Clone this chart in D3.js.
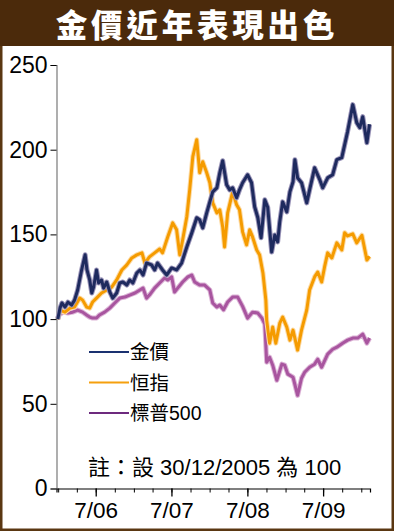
<!DOCTYPE html>
<html>
<head>
<meta charset="utf-8">
<script src="https://cdn.jsdelivr.net/npm/d3@7"></script>
<style>
  body { margin: 0; background: #fff; }
  svg { display: block; }
</style>
</head>
<body>
<svg id="chart"></svg>
<script>
// data: index, 30/12/2005 = 100
const goldDates = ["2005-12-30","2006-01-10","2006-01-19","2006-02-03","2006-02-17","2006-03-07","2006-03-21","2006-04-05","2006-04-24","2006-05-11","2006-05-20","2006-06-02","2006-06-12","2006-06-21","2006-07-05","2006-07-15","2006-07-29","2006-08-08","2006-08-23","2006-09-07","2006-09-21","2006-10-10","2006-10-25","2006-11-09","2006-11-28","2006-12-12","2006-12-27","2007-01-15","2007-01-30","2007-02-14","2007-03-03","2007-03-27","2007-04-11","2007-04-25","2007-05-19","2007-06-08","2007-07-02","2007-07-26","2007-08-19","2007-09-13","2007-10-07","2007-10-31","2007-11-14","2007-11-29","2007-12-18","2008-01-02","2008-01-16","2008-02-05","2008-02-19","2008-03-04","2008-03-23","2008-04-07","2008-04-21","2008-05-10","2008-05-24","2008-06-08","2008-07-02","2008-07-21","2008-08-05","2008-08-20","2008-09-05","2008-09-23","2008-10-07","2008-10-26","2008-11-10","2008-11-24","2008-12-04","2008-12-18","2009-01-07","2009-01-22","2009-02-06","2009-02-15","2009-02-28","2009-03-19","2009-04-13","2009-04-27","2009-05-21","2009-06-15","2009-06-29","2009-07-23","2009-08-16","2009-09-05","2009-09-29","2009-10-13","2009-10-27","2009-11-21","2009-12-10","2009-12-25","2010-01-08","2010-01-28","2010-02-10"];
const goldValues = [100,106.5,109.5,107.1,110,108.3,111.2,117.2,129,138,129,123.1,115.4,118.9,129,121.3,123.1,118.3,121.9,116,112.4,115.4,121.3,121.9,120.1,123.1,121.3,127.2,129,126,133.1,132,129,133.1,129,126,130.2,129,133.1,142.6,150.9,159.8,158.6,153.8,162.7,169.2,175.1,177.5,186.4,193.5,179.3,176.3,177.5,171.6,176.3,180.5,185.2,180.5,166.3,160,148,170.4,166,139.6,149.7,145.6,157.4,169.2,163.3,175.1,181.1,194.1,183.4,180.5,168.6,176.3,189.3,182.2,177.5,183.4,185.2,194.1,195.3,203,210.7,226.6,216,213,219.5,204.1,215];

const hsiDates = ["2005-12-30","2006-01-10","2006-02-03","2006-02-27","2006-03-21","2006-04-15","2006-04-29","2006-05-18","2006-06-02","2006-06-16","2006-07-05","2006-07-29","2006-08-23","2006-09-16","2006-10-10","2006-11-04","2006-11-28","2006-12-22","2007-01-15","2007-02-09","2007-02-23","2007-03-17","2007-04-11","2007-05-05","2007-05-19","2007-06-13","2007-07-07","2007-07-26","2007-08-10","2007-08-24","2007-09-13","2007-09-27","2007-10-12","2007-10-31","2007-11-14","2007-11-29","2007-12-18","2008-01-02","2008-01-16","2008-02-05","2008-02-19","2008-03-04","2008-03-13","2008-03-28","2008-04-21","2008-05-10","2008-05-24","2008-06-08","2008-06-27","2008-07-12","2008-07-26","2008-08-15","2008-08-29","2008-09-14","2008-09-28","2008-10-02","2008-10-16","2008-10-31","2008-11-15","2008-12-04","2008-12-18","2009-01-07","2009-01-22","2009-02-06","2009-02-28","2009-03-19","2009-04-13","2009-04-27","2009-05-21","2009-06-05","2009-06-24","2009-07-08","2009-07-23","2009-08-12","2009-09-05","2009-09-29","2009-10-13","2009-10-27","2009-11-21","2009-12-10","2010-01-04","2010-01-28","2010-02-10"];
const hsiValues = [100,105.3,104.1,106.5,107.1,112.4,111.2,107.1,106.5,110.1,112.4,115.4,117.2,118.9,123.1,129,132,136.1,137.9,139.1,133.1,136.7,139.1,141.4,139.1,148.5,156.8,152.7,137.9,146.7,160.4,176.3,195.9,205.9,186.4,192.9,186.4,180.5,168.6,162.7,164.5,154.4,142.6,162.7,175.1,167.5,164.5,151.5,143.8,152.7,148.5,140.8,137.9,127.2,111.2,99.4,85.8,95.3,85.8,97.6,101.2,95.3,87.6,93.5,81.7,93.5,105.3,117.2,124.9,127.8,121.9,130.8,139.1,136.1,145,140.8,151,149.1,150.3,145,149.5,134.9,137];

const spxDates = ["2005-12-30","2006-01-05","2006-01-24","2006-02-17","2006-03-12","2006-04-05","2006-04-29","2006-05-18","2006-06-02","2006-06-16","2006-07-05","2006-07-19","2006-08-13","2006-09-07","2006-10-01","2006-10-25","2006-11-18","2006-12-12","2007-01-06","2007-01-30","2007-02-14","2007-03-03","2007-03-17","2007-04-11","2007-05-05","2007-05-29","2007-06-13","2007-07-02","2007-07-16","2007-07-31","2007-08-24","2007-09-18","2007-10-07","2007-10-21","2007-11-14","2007-12-08","2008-01-02","2008-01-16","2008-02-05","2008-02-19","2008-03-08","2008-03-28","2008-04-21","2008-05-15","2008-06-08","2008-07-02","2008-07-26","2008-08-20","2008-09-09","2008-09-23","2008-10-02","2008-10-16","2008-10-31","2008-11-20","2008-12-14","2008-12-28","2009-01-12","2009-02-06","2009-02-28","2009-03-19","2009-04-03","2009-04-27","2009-05-21","2009-06-05","2009-06-24","2009-07-23","2009-08-16","2009-09-05","2009-10-03","2009-10-27","2009-11-21","2009-12-15","2010-01-08","2010-01-28","2010-02-10"];
const spxValues = [100,102.4,104.1,103.6,104.1,105.3,104.1,102.4,101.2,100.6,100.6,102.4,104.1,106.5,109.5,112.4,113,114.2,115.4,117.2,118.3,112.4,114.2,118.3,121.3,124.3,123.1,124.9,116,118.3,121.9,124.9,126,121.9,120.1,120.1,117.2,109.5,107.1,108.3,105.5,110.1,113,113,107.5,100.6,104.1,103.6,100.6,97,74.6,77.5,72.8,63.9,73.4,72.8,67.5,65.7,55,65.1,68.6,71.6,73.4,76.3,71.6,79.3,82.2,83.4,85.8,87.6,88.8,88.8,91.1,85.8,88.8];

const seriesNames = ["金價", "恒指", "標普500"];
const yTicks = [0, 50, 100, 150, 200, 250];
const titleText = "金價近年表現出色";
const noteText = "註：設 30/12/2005 為 100";

// init setting
const W = 394, H = 531;
const svg = d3.select("#chart").attr("width", W).attr("height", H);
const parse = d3.timeParse("%Y-%m-%d");

// frame + title bar
svg.append("rect")
    .attr("x", 1.25).attr("y", 1.25)
    .attr("width", W - 2.5).attr("height", H - 2.5)
    .attr("fill", "#fff")
    .attr("stroke", "#5a3712")
    .attr("stroke-width", 2.5);
svg.append("rect")
    .attr("x", 0).attr("y", 0)
    .attr("width", W).attr("height", 46)
    .attr("fill", "#4b2a0b");
svg.append("text")
    .attr("x", W / 2)
    .attr("y", 37)
    .attr("text-anchor", "middle")
    .attr("fill", "#fff")
    .style("font-family", "'Noto Sans CJK TC', 'Noto Sans CJK SC', sans-serif")
    .style("font-weight", 900)
    .style("font-size", "31.5px")
    .style("letter-spacing", "3.8px")
    .text(titleText);

// scales
const xScale = d3.scaleTime()
    .domain([new Date(2005, 11, 24), new Date(2010, 1, 12)])
    .range([56.5, 370]);
const yScale = d3.scaleLinear()
    .domain([0, 250])
    .range([488.5, 65]);

const font = "'Liberation Sans', Arial, 'Noto Sans CJK TC', sans-serif";

// y axis
const yAxis = svg.append("g")
    .attr("transform", "translate(56.5, 0)")
    .call(d3.axisLeft(yScale).tickValues(yTicks).tickSize(6).tickPadding(3).tickFormat(d3.format("d")));
yAxis.select(".domain").attr("stroke", "#7a7a7a").attr("stroke-width", 1.2);
yAxis.selectAll(".tick line").attr("stroke", "#000");
yAxis.selectAll(".tick text")
    .style("font-family", font)
    .style("font-size", "23px")
    .attr("fill", "#000");

// x axis: quarterly minor ticks, July major ticks with labels
const quarters = d3.timeMonth.every(3).range(new Date(2006, 0, 1), new Date(2010, 1, 12));
const julys = quarters.filter(d => d.getMonth() === 6);

const xMinor = svg.append("g")
    .attr("transform", "translate(0, 488.5)")
    .call(d3.axisBottom(xScale).tickValues(quarters).tickSize(4).tickFormat(""));
xMinor.select(".domain").attr("stroke", "#000").attr("stroke-width", 1.2);
xMinor.selectAll(".tick line").attr("stroke", "#000");

const xMajor = svg.append("g")
    .attr("transform", "translate(0, 488.5)")
    .call(d3.axisBottom(xScale).tickValues(julys).tickSize(8).tickPadding(6).tickFormat(d3.timeFormat("%-m/%y")));
xMajor.select(".domain").remove();
xMajor.selectAll(".tick line").attr("stroke", "#000").attr("stroke-width", 1.3);
xMajor.selectAll(".tick text")
    .style("font-family", font)
    .style("font-size", "22.5px")
    .attr("fill", "#000");

// lines
const line = d3.line()
    .x(d => xScale(d.date))
    .y(d => yScale(d.value));

function toPoints(dates, values) {
    return dates.map((s, i) => ({ date: parse(s), value: values[i] }));
}

const series = [
    { points: toPoints(spxDates, spxValues), color: "#a8559f", halo: "#dcb4d6" },
    { points: toPoints(hsiDates, hsiValues), color: "#f59b00", halo: "#fcdba6" },
    { points: toPoints(goldDates, goldValues), color: "#1e2a5e", halo: "#9a94b8" }
];

series.forEach(s => {
    svg.append("path")
        .datum(s.points)
        .attr("fill", "none")
        .attr("stroke", s.halo)
        .attr("stroke-width", 5)
        .attr("stroke-linejoin", "round")
        .attr("d", line);
    svg.append("path")
        .datum(s.points)
        .attr("fill", "none")
        .attr("stroke", s.color)
        .attr("stroke-width", 3)
        .attr("stroke-linejoin", "round")
        .attr("d", line);
});

// legend
const legendColors = ["#1a3170", "#f5a00e", "#6d2a7e"];
const legend = svg.append("g");
seriesNames.forEach((name, i) => {
    const y = 352 + i * 30.5;
    legend.append("line")
        .attr("x1", 89).attr("x2", 129)
        .attr("y1", y).attr("y2", y)
        .attr("stroke", legendColors[i])
        .attr("stroke-width", 2);
    legend.append("text")
        .attr("x", 130)
        .attr("y", y)
        .attr("dy", "0.36em")
        .style("font-family", font)
        .style("font-size", "19.5px")
        .attr("fill", "#000")
        .text(name);
});

// note
svg.append("text")
    .attr("x", 88)
    .attr("y", 475)
    .style("font-family", font)
    .style("font-size", "22px")
    .attr("fill", "#000")
    .text(noteText);
</script>
</body>
</html>
